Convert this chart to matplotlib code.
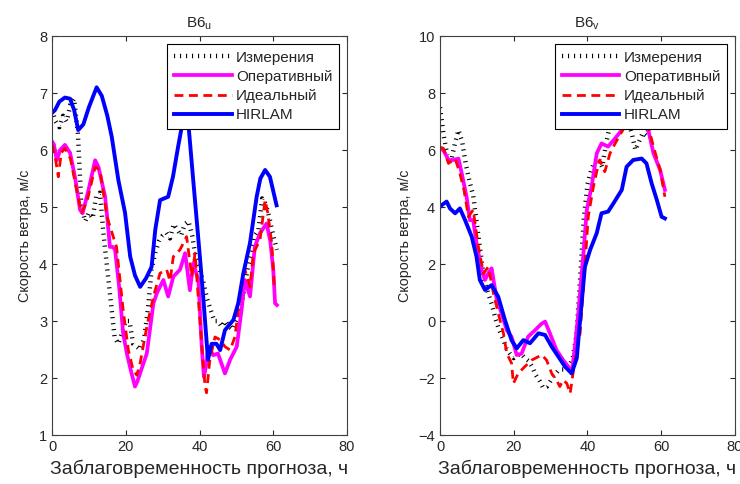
import matplotlib
matplotlib.use("Agg")
import matplotlib.pyplot as plt

plt.rcParams['font.family'] = ['Liberation Sans', 'DejaVu Sans']
plt.rcParams['mathtext.fontset'] = 'custom'
plt.rcParams['mathtext.rm'] = 'Liberation Sans'

# ---- data ----
titles = [r'B6$_\mathrm{u}$', r'B6$_\mathrm{v}$']
legend_labels = ['Измерения', 'Оперативный', 'Идеальный', 'HIRLAM']
x_label = 'Заблаговременность прогноза, ч'
y_label = 'Скорость ветра, м/с'

# left panel: u component
u_meas_t = list(range(0, 62))
u_meas_v = [6.7, 6.5, 6.4, 6.6, 6.5, 6.8, 6.9, 6.3, 5.0, 4.75, 4.9, 4.8, 5.2, 5.25, 4.5,
            3.9, 3.3, 2.7, 2.6, 2.8, 3.0, 3.0, 2.6, 2.55, 2.5, 2.7, 3.2, 3.9, 4.2, 4.4,
            4.5, 4.55, 4.45, 4.7, 4.6, 4.5, 4.7, 4.75, 4.5, 4.1, 3.9, 3.7, 3.4, 3.2, 3.0,
            3.0, 2.9, 3.0, 2.9, 2.85, 3.0, 3.1, 3.5, 3.9, 4.2, 4.5, 4.6, 5.15, 5.05, 4.8,
            4.5, 4.25]

u_oper_t = [0, 0.5, 1.3, 2.2, 3.5, 4.9, 6.3, 7.6, 8.3, 9.9, 11.7, 12.6, 14.4, 15.0, 15.7,
            16.5, 17.1, 18.2, 19.3, 20.3, 21.5, 22.5, 23.2, 24.5, 25.7, 27.5, 28.5, 30.2,
            31.5, 32.9, 34.7, 36.1, 37.4, 38.3, 39.7, 40.6, 41.2, 41.9, 42.4, 43.7, 45.0,
            46.9, 48.3, 50.1, 51.4, 52.3, 53.7, 55.0, 56.4, 58.2, 59.2, 60.0, 60.5, 61.0]
u_oper_v = [6.15, 6.1, 5.82, 6.0, 6.09, 5.95, 5.5, 4.95, 4.89, 5.3, 5.82, 5.7, 5.18, 4.8,
            4.3, 4.3, 4.25, 3.6, 2.78, 2.43, 2.1, 1.85, 1.95, 2.2, 2.43, 3.31, 3.5, 3.72,
            3.43, 3.78, 3.9, 4.19, 3.54, 4.01, 3.72, 2.55, 2.02, 2.26, 2.55, 2.4, 2.43,
            2.08, 2.32, 2.55, 3.19, 3.72, 3.43, 4.3, 4.54, 4.71, 4.4, 3.9, 3.31, 3.28]

u_ideal_t = [0, 0.8, 1.7, 2.5, 3.5, 5.0, 6.5, 8.0, 9.5, 11.7, 13.0, 14.9, 16.6, 17.5, 19.3,
             20.7, 22.0, 23.0, 23.9, 25.7, 27.5, 29.3, 31.1, 32.0, 32.9, 34.7, 36.5, 37.9,
             38.8, 40.1, 41.5, 41.9, 42.8, 44.2, 45.6, 46.9, 48.3, 49.6, 51.0, 52.3, 53.7,
             54.6, 56.4, 57.8, 58.5, 59.6, 60.3, 61.0]
u_ideal_v = [6.1, 5.9, 5.53, 5.95, 6.03, 5.85, 5.35, 4.9, 5.1, 5.7, 5.65, 4.83, 4.48, 4.3,
             3.19, 2.49, 2.14, 2.05, 2.26, 2.9, 3.43, 3.84, 3.9, 3.7, 4.13, 4.25, 4.48,
             3.78, 4.19, 3.02, 1.85, 1.74, 2.32, 2.72, 2.67, 2.55, 2.49, 2.72, 3.43, 3.9,
             3.6, 4.19, 4.42, 5.12, 4.9, 4.36, 3.6, 3.57]

u_hirlam_t = [0, 0.8, 2.0, 3.5, 4.9, 6.0, 7.1, 8.5, 10.0, 12.1, 13.5, 15.0, 16.2, 18.0, 19.8,
              21.2, 22.5, 23.9, 25.5, 27.0, 28.0, 29.3, 31.5, 32.8, 34.2, 35.2, 36.0, 36.8,
              38.3, 40.1, 41.0, 42.3, 43.3, 44.6, 45.6, 46.9, 49.2, 50.5, 51.9, 53.7, 55.5,
              56.5, 57.8, 59.1, 60.9]
u_hirlam_v = [6.65, 6.7, 6.85, 6.92, 6.9, 6.7, 6.35, 6.45, 6.75, 7.10, 6.95, 6.6, 6.23,
              5.47, 4.9, 4.13, 3.8, 3.60, 3.75, 3.95, 4.6, 5.12, 5.18, 5.53, 6.06, 6.41, 6.8,
              6.6, 5.47, 4.13, 3.43, 2.32, 2.6, 2.6, 2.49, 2.84, 3.02, 3.31, 3.84, 4.37,
              5.18, 5.5, 5.65, 5.53, 5.03]

# right panel: v component
v_meas_t = list(range(0, 59))
v_meas_v = [7.5, 6.5, 5.8, 5.6, 6.2, 6.7, 6.3, 5.5, 4.9, 4.4, 3.4, 2.4, 1.4, 1.0, 0.6,
            0.1, -0.3, -0.6, -0.95, -1.15, -1.3, -1.2, -1.15, -1.3, -1.4, -1.6, -1.9,
            -2.1, -2.35, -2.3, -2.1, -1.9, -1.75, -1.7, -1.7, -1.6, -1.3, -0.5, 1.5, 3.6,
            4.8, 5.3, 5.6, 5.7, 5.4, 6.2, 6.8, 7.2, 7.5, 7.6, 7.4, 7.0, 6.6, 6.0, 6.3, 6.6,
            6.5, 6.9, 7.2]

v_oper_t = [0, 0.9, 2.3, 3.6, 5.0, 5.9, 7.2, 8.1, 9.0, 9.9, 11.3, 12.2, 13.2, 14.0, 15.4,
            16.7, 18.1, 19.4, 20.8, 22.1, 23.9, 25.8, 27.5, 28.5, 29.8, 31.6, 33.4, 34.8,
            35.7, 36.6, 37.5, 38.9, 39.8, 41.1, 42.5, 43.8, 45.6, 47.5, 49.3, 51.0, 53.0,
            55.0, 56.5, 57.9, 59.7, 61.0]
v_oper_v = [6.05, 6.0, 5.65, 5.65, 5.7, 5.18, 4.36, 3.54, 3.54, 2.73, 1.79, 1.44, 1.7,
            1.85, 0.74, 0.27, -0.32, -0.55, -1.19, -1.15, -0.55, -0.32, -0.1, -0.02, -0.43,
            -1.02, -1.37, -1.6, -1.84, -0.9, 0.27, 2.37, 3.89, 4.71, 5.88, 6.23, 6.12, 6.41,
            6.7, 7.2, 7.6, 7.5, 6.7, 5.88, 5.3, 4.6]

v_ideal_t = [0, 0.9, 2.3, 4.1, 5.4, 6.5, 7.7, 9.0, 10.4, 11.8, 13.1, 14.5, 15.8, 17.2, 18.1,
             19.4, 19.9, 21.2, 23.0, 24.9, 27.6, 28.9, 30.3, 31.6, 32.5, 33.4, 34.4, 35.3,
             36.6, 38.0, 39.3, 40.2, 41.6, 43.0, 43.3, 44.7, 46.1, 47.5, 49.3, 51.0, 53.0,
             55.0, 56.5, 57.9, 59.7, 61.0]
v_ideal_v = [6.1, 6.06, 5.53, 5.7, 5.18, 4.6, 3.66, 3.9, 2.61, 1.67, 1.9, 0.97, 0.27,
             -0.43, -1.13, -1.48, -2.19, -1.84, -1.6, -1.37, -1.19, -1.37, -1.84, -2.07,
             -2.3, -2.07, -2.19, -2.54, -1.37, -0.43, 1.9, 3.66, 4.71, 5.53, 5.65, 5.24,
             5.88, 6.23, 6.64, 7.0, 7.3, 7.3, 6.82, 6.12, 5.3, 4.36]

v_hirlam_t = [0, 0.5, 1.8, 2.7, 4.1, 5.4, 6.8, 8.6, 9.9, 10.8, 12.2, 14.0, 15.8, 17.6, 19.4,
              20.8, 22.6, 24.4, 26.7, 28.5, 30.3, 32.1, 33.9, 35.7, 37.1, 38.0, 39.3, 40.7,
              42.5, 43.8, 45.6, 47.0, 49.3, 50.6, 52.4, 54.7, 56.0, 57.4, 58.8, 60.1, 61.0]
v_hirlam_v = [4.0, 4.07, 4.19, 3.95, 3.78, 3.95, 3.54, 2.96, 2.26, 1.44, 1.09, 1.26, 0.85,
              0.04, -0.67, -0.96, -0.67, -0.78, -0.43, -0.49, -0.9, -1.25, -1.6, -1.84, -1.3,
              0.04, 1.9, 2.49, 3.08, 3.78, 3.84, 4.12, 4.6, 5.41, 5.65, 5.7, 5.53, 4.83,
              4.25, 3.66, 3.6]

x_ticks = [0, 20, 40, 60, 80]
u_yticks = [1, 2, 3, 4, 5, 6, 7, 8]
v_yticks = [-4, -2, 0, 2, 4, 6, 8, 10]

text_col = '#262626'


def draw_panel(ax, title, meas, oper, ideal, hirlam, ylim, yticks):
    ax.plot(meas[0], meas[1], color='black', lw=3.2,
            linestyle=(0, (0.25, 1.1)), dash_capstyle='butt', label=legend_labels[0])
    ax.plot(oper[0], oper[1], color='#ff00ff', lw=2.7, label=legend_labels[1])
    ax.plot(ideal[0], ideal[1], color='#ff0000', lw=2.0,
            linestyle=(0, (3.2, 2.0)), label=legend_labels[2])
    ax.plot(hirlam[0], hirlam[1], color='#0000ff', lw=2.8, label=legend_labels[3])

    ax.set_xlim(0, 80)
    ax.set_ylim(*ylim)
    ax.set_xticks(x_ticks)
    ax.set_yticks(yticks)
    ax.tick_params(direction='in', length=3.5, top=True, right=True,
                   labelsize=10.5, colors=text_col)
    for sp in ax.spines.values():
        sp.set_color('#404040')
        sp.set_linewidth(0.8)

    ax.set_title(title, fontsize=11, color=text_col, pad=6)
    ax.set_xlabel(x_label, fontsize=14, color=text_col, labelpad=4)
    ax.set_ylabel(y_label, fontsize=10.3, color=text_col, labelpad=5)

    leg = ax.legend(loc='upper right', fontsize=11, handlelength=3.75,
                    handletextpad=0.3, labelspacing=0.34, borderpad=0.45,
                    borderaxespad=0.5, fancybox=False, framealpha=1)
    leg.get_frame().set_edgecolor('black')
    leg.get_frame().set_linewidth(0.8)
    for t in leg.get_texts():
        t.set_color(text_col)


fig = plt.figure(figsize=(7.4, 4.84), dpi=100)
ax1 = fig.add_axes([0.0703, 0.1012, 0.3986, 0.8244])
ax2 = fig.add_axes([0.5946, 0.1012, 0.3986, 0.8244])

draw_panel(ax1, titles[0], (u_meas_t, u_meas_v), (u_oper_t, u_oper_v),
           (u_ideal_t, u_ideal_v), (u_hirlam_t, u_hirlam_v), (1, 8), u_yticks)
draw_panel(ax2, titles[1], (v_meas_t, v_meas_v), (v_oper_t, v_oper_v),
           (v_ideal_t, v_ideal_v), (v_hirlam_t, v_hirlam_v), (-4, 10), v_yticks)

fig.savefig('out.png', dpi=100)
